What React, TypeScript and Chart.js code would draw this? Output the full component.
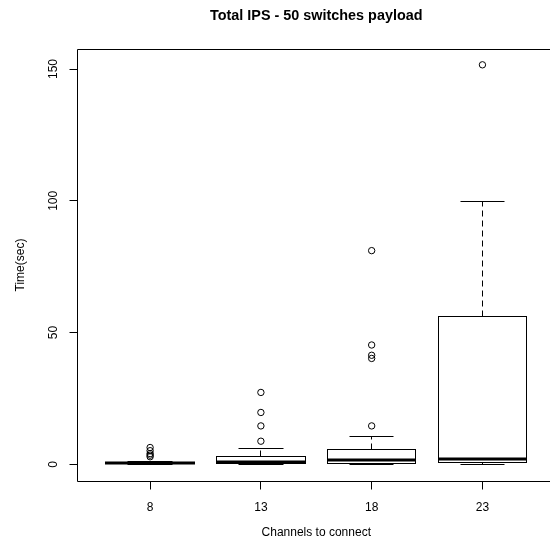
import React, { useEffect, useRef } from "react";
import { Chart, registerables } from "chart.js";

Chart.register(...registerables);

const categories = ["8", "13", "18", "23"];
const lowerWhisker = [0.1, 0.1, 0.1, 0.1];
const q1 = [0.2, 0.4, 0.5, 0.6];
const medians = [0.4, 1.0, 1.6, 2.0];
const q3 = [0.7, 3.1, 5.7, 56.0];
const upperWhisker = [1.1, 6.2, 10.7, 99.9];
const outliers8 = [2.9, 3.5, 4.1, 5.2, 6.4];
const outliers13 = [8.8, 14.6, 19.7, 27.3];
const outliers18 = [14.6, 40.2, 41.4, 45.3, 81.1];
const outliers23 = [151.6];
const yTicks = [0, 50, 100, 150];

const title = "Total IPS - 50 switches payload";
const xTitle = "Channels to connect";
const yTitle = "Time(sec)";

const FONT = "'Liberation Sans', Arial, Helvetica, sans-serif";

const outlierPoints = [outliers8, outliers13, outliers18, outliers23].flatMap((arr, i) =>
  arr.map((v) => ({ x: i + 1, y: v }))
);

const snap = (v: number) => Math.round(v - 0.5) + 0.5;

const rPlugin = {
  id: "rboxplot",
  beforeDatasetsDraw(chart: any) {
    const { ctx, scales } = chart;
    const x = scales.x;
    const y = scales.y;
    ctx.save();
    ctx.strokeStyle = "#000";
    categories.forEach((_, i) => {
      const c = i + 1;
      const cx = snap(x.getPixelForValue(c));
      const bl = snap(x.getPixelForValue(c - 0.4));
      const br = snap(x.getPixelForValue(c + 0.4));
      const sl = snap(x.getPixelForValue(c - 0.2));
      const sr = snap(x.getPixelForValue(c + 0.2));
      const yMin = snap(y.getPixelForValue(lowerWhisker[i]));
      const yQ1 = snap(y.getPixelForValue(q1[i]));
      const yMed = y.getPixelForValue(medians[i]);
      const yQ3 = snap(y.getPixelForValue(q3[i]));
      const yMax = snap(y.getPixelForValue(upperWhisker[i]));
      ctx.lineWidth = 1;
      // dashed whiskers
      ctx.setLineDash([6, 4]);
      ctx.beginPath();
      ctx.moveTo(cx, yQ3);
      ctx.lineTo(cx, yMax);
      ctx.moveTo(cx, yQ1);
      ctx.lineTo(cx, yMin);
      ctx.stroke();
      ctx.setLineDash([]);
      // staples
      ctx.beginPath();
      ctx.moveTo(sl, yMax);
      ctx.lineTo(sr, yMax);
      ctx.moveTo(sl, yMin);
      ctx.lineTo(sr, yMin);
      ctx.stroke();
      // box
      ctx.fillStyle = "#fff";
      ctx.fillRect(bl, yQ3, br - bl, yQ1 - yQ3);
      ctx.strokeRect(bl, yQ3, br - bl, yQ1 - yQ3);
      // median
      ctx.lineWidth = 3;
      ctx.beginPath();
      ctx.moveTo(bl - 0.5, Math.round(yMed));
      ctx.lineTo(br + 0.5, Math.round(yMed));
      ctx.stroke();
    });
    ctx.restore();
  },
  afterDraw(chart: any) {
    const { ctx, scales, chartArea } = chart;
    const x = scales.x;
    const y = scales.y;
    ctx.save();
    ctx.strokeStyle = "#000";
    ctx.fillStyle = "#000";
    ctx.lineWidth = 1;
    const left = snap(chartArea.left);
    const top = snap(chartArea.top);
    const bottom = snap(chartArea.bottom);
    // frame (right edge is beyond the picture)
    ctx.beginPath();
    ctx.moveTo(chartArea.right + 5, top);
    ctx.lineTo(left, top);
    ctx.lineTo(left, bottom);
    ctx.lineTo(chartArea.right + 5, bottom);
    ctx.stroke();
    // y ticks
    ctx.beginPath();
    yTicks.forEach((t) => {
      const py = snap(y.getPixelForValue(t));
      ctx.moveTo(left - 8, py);
      ctx.lineTo(left, py);
    });
    categories.forEach((_, i) => {
      const px = snap(x.getPixelForValue(i + 1));
      ctx.moveTo(px, bottom);
      ctx.lineTo(px, bottom + 8);
    });
    ctx.stroke();
    // y tick labels (rotated)
    ctx.font = `12px ${FONT}`;
    ctx.textAlign = "center";
    ctx.textBaseline = "alphabetic";
    yTicks.forEach((t) => {
      const py = y.getPixelForValue(t);
      ctx.save();
      ctx.translate(57, py);
      ctx.rotate(-Math.PI / 2);
      ctx.fillText(String(t), 0, 0);
      ctx.restore();
    });
    // x tick labels
    categories.forEach((lab, i) => {
      ctx.fillText(lab, x.getPixelForValue(i + 1), 511);
    });
    // axis titles
    const midX = x.getPixelForValue(2.5);
    ctx.fillText(xTitle, midX, 536);
    ctx.save();
    ctx.translate(24, (chartArea.top + chartArea.bottom) / 2);
    ctx.rotate(-Math.PI / 2);
    ctx.fillText(yTitle, 0, 0);
    ctx.restore();
    // main title
    ctx.font = `bold 14.4px ${FONT}`;
    ctx.fillText(title, midX, 19.5);
    ctx.restore();
  },
};

export default function App() {
  const ref = useRef<HTMLCanvasElement | null>(null);
  useEffect(() => {
    document.body.style.margin = "0";
    document.body.style.overflow = "hidden";
    const canvas = ref.current;
    if (!canvas) return;
    const chart = new Chart(canvas, {
      type: "scatter",
      data: {
        datasets: [
          {
            data: outlierPoints,
            pointStyle: "circle",
            pointRadius: 3.2,
            pointHoverRadius: 3.2,
            pointBorderWidth: 1,
            borderColor: "#000",
            backgroundColor: "rgba(0,0,0,0)",
            showLine: false,
          },
        ],
      },
      options: {
        responsive: false,
        animation: false,
        devicePixelRatio: 1,
        layout: { padding: { left: 77, top: 49, right: 0, bottom: 71 } },
        plugins: {
          legend: { display: false },
          tooltip: { enabled: false },
          title: { display: false },
        },
        events: [],
        scales: {
          x: { type: "linear", display: false, min: 0.34, max: 4.572 },
          y: { type: "linear", display: false, min: -6.3, max: 157.6 },
        },
      },
      plugins: [rPlugin],
    });
    return () => chart.destroy();
  }, []);
  return (
    <div style={{ position: "absolute", left: 0, top: 0, width: 550, height: 552, background: "#fff" }}>
      <canvas ref={ref} width={550} height={552} style={{ width: 550, height: 552, display: "block" }} />
    </div>
  );
}
